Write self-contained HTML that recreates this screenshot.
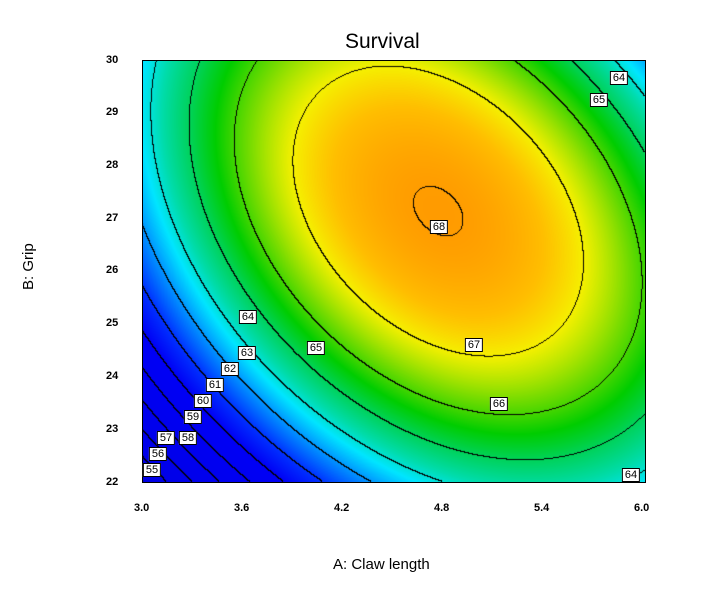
<!DOCTYPE html>
<html><head><meta charset="utf-8"><style>
body{margin:0;background:#fff;width:712px;height:600px;position:relative;font-family:"Liberation Sans",Arial,sans-serif;overflow:hidden}
canvas{position:absolute;left:142px;top:60px}
.t{position:absolute;font-size:11px;font-weight:bold;color:#000}
.lb{position:absolute;font-size:11px;background:#fff;border:1px solid #000;padding:0 2px;line-height:12px;transform:translate(-50%,-50%)}
</style></head><body>
<div style="position:absolute;left:345px;top:30px;font-size:21px">Survival</div>
<canvas id="c" width="503" height="422"></canvas>
<div style="position:absolute;left:142px;top:60px;width:502px;height:421px;border:1px solid #000"></div>
<div class="t" style="left:106px;top:54px">30</div>
<div class="t" style="left:106px;top:106px">29</div>
<div class="t" style="left:106px;top:159px">28</div>
<div class="t" style="left:106px;top:212px">27</div>
<div class="t" style="left:106px;top:264px">26</div>
<div class="t" style="left:106px;top:317px">25</div>
<div class="t" style="left:106px;top:370px">24</div>
<div class="t" style="left:106px;top:423px">23</div>
<div class="t" style="left:106px;top:476px">22</div>
<div class="t" style="left:134px;top:502px">3.0</div>
<div class="t" style="left:234px;top:502px">3.6</div>
<div class="t" style="left:334px;top:502px">4.2</div>
<div class="t" style="left:434px;top:502px">4.8</div>
<div class="t" style="left:534px;top:502px">5.4</div>
<div class="t" style="left:634px;top:502px">6.0</div>
<div style="position:absolute;left:333px;top:556px;font-size:15px">A: Claw length</div>
<div style="position:absolute;left:20px;top:290px;font-size:15px;transform:rotate(-90deg);transform-origin:left top;">B: Grip</div>
<div class="lb" style="left:619px;top:78px">64</div>
<div class="lb" style="left:599px;top:100px;top:100px">65</div>
<div class="lb" style="left:439px;top:227px">68</div>
<div class="lb" style="left:248px;top:317px">64</div>
<div class="lb" style="left:316px;top:348px">65</div>
<div class="lb" style="left:474px;top:345px">67</div>
<div class="lb" style="left:247px;top:353px">63</div>
<div class="lb" style="left:230px;top:369px">62</div>
<div class="lb" style="left:215px;top:385px">61</div>
<div class="lb" style="left:203px;top:401px">60</div>
<div class="lb" style="left:193px;top:417px">59</div>
<div class="lb" style="left:188px;top:438px">58</div>
<div class="lb" style="left:166px;top:438px">57</div>
<div class="lb" style="left:158px;top:454px">56</div>
<div class="lb" style="left:152px;top:470px">55</div>
<div class="lb" style="left:499px;top:404px">66</div>
<div class="lb" style="left:631px;top:475px">64</div>
<script>
var c=document.getElementById('c'),x=c.getContext('2d'),W=503,H=422;
var img=x.createImageData(W,H),d=img.data;
function f(px,py){var A=3+3*px/(W-1),B=30-8*py/(H-1);var u=(A-4.77)/1.5,v=(B-27.13)/4;
return 68.03-(3.5*u*u+2.47*v*v+2.05*u*v);}
var S=[[55,0,0,225],[61,0,0,245],[62,0,50,255],[63,0,150,255],[63.7,0,230,255],[64.3,0,220,170],[65,0,210,90],[65.6,0,205,0],[66.3,120,220,0],[67,245,240,0],[67.5,255,190,0],[68.1,255,150,0]];
function col(z){if(z<=S[0][0])return S[0].slice(1);for(var i=1;i<S.length;i++){if(z<=S[i][0]){var a=S[i-1],b=S[i],t=(z-a[0])/(b[0]-a[0]);return [a[1]+t*(b[1]-a[1]),a[2]+t*(b[2]-a[2]),a[3]+t*(b[3]-a[3])];}}return S[S.length-1].slice(1);}
var F=[];for(var y=0;y<H;y++)for(var i=0;i<W;i++)F.push(f(i,y));
for(var y=0;y<H;y++)for(var i=0;i<W;i++){var k=y*W+i,z=F[k],cc=col(z);
var fl=Math.floor(z),line=false;
if(i<W-1&&Math.floor(F[k+1])!=fl)line=true;if(y<H-1&&Math.floor(F[k+W])!=fl)line=true;
var p=k*4;if(line){d[p]=d[p+1]=d[p+2]=0;}else{d[p]=cc[0];d[p+1]=cc[1];d[p+2]=cc[2];}d[p+3]=255;}
x.putImageData(img,0,0);
</script>
</body></html>
